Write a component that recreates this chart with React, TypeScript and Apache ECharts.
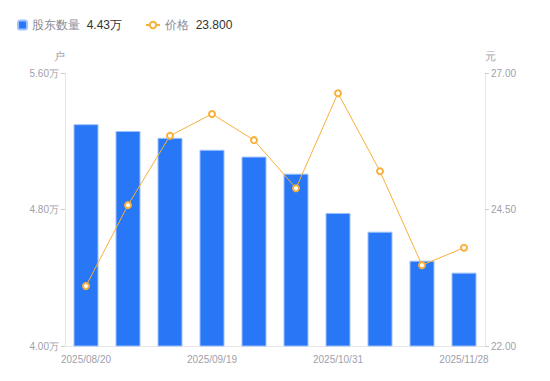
import React, { useEffect, useRef } from "react";
import * as echarts from "echarts";

const dates = [
  "2025/08/20", "2025/08/29", "2025/09/10", "2025/09/19", "2025/09/30",
  "2025/10/20", "2025/10/31", "2025/11/10", "2025/11/20", "2025/11/28",
];
const holders = [5.30, 5.26, 5.22, 5.15, 5.11, 5.01, 4.78, 4.67, 4.50, 4.43];
const prices = [23.10, 24.58, 25.85, 26.25, 25.77, 24.89, 26.63, 25.20, 23.48, 23.80];

const leftTicks = { min: 4.0, max: 5.6, interval: 0.8 };
const rightTicks = { min: 22, max: 27, interval: 2.5 };

export default function App() {
  const ref = useRef<HTMLDivElement>(null);
  useEffect(() => {
    if (!ref.current) return;
    const chart = echarts.init(ref.current, undefined, { renderer: "svg" });
    const lastH = holders[holders.length - 1];
    const lastP = prices[prices.length - 1];
    const font = "sans-serif";
    const rich = {
      n: { color: "#8a8a96", fontSize: 12, fontFamily: font },
      v: { color: "#333", fontSize: 12, fontFamily: font },
    };
    chart.setOption({
      animation: false,
      textStyle: { fontFamily: font },
      legend: [
        {
          left: 9,
          top: 11,
          padding: 0,
          itemWidth: 9,
          itemHeight: 9,
          data: [{ name: "股东数量", icon: "roundRect" }],
          formatter: (name: string) => `{n|${name}}  {v|${lastH.toFixed(2)}万}`,
          textStyle: { rich },
        },
        {
          left: 137,
          top: 11,
          padding: 0,
          itemWidth: 14,
          itemHeight: 8,
          data: [{ name: "价格" }],
          formatter: (name: string) => `{n|${name}}  {v|${lastP.toFixed(3)}}`,
          textStyle: { rich },
        },
      ],
      grid: { left: 57, right: 57, top: 65, bottom: 27 },
      xAxis: {
        type: "category",
        data: dates,
        axisLine: { lineStyle: { color: "#e6e6e6" } },
        axisTick: { show: false },
        axisLabel: {
          color: "#a0a0ab",
          fontSize: 10,
          interval: 2,
          margin: 8,
        },
      },
      yAxis: [
        {
          type: "value",
          name: "户",
          nameGap: 12,
          nameTextStyle: { color: "#a0a0ab", fontSize: 11, align: "right" },
          min: leftTicks.min,
          max: leftTicks.max,
          interval: leftTicks.interval,
          axisLine: { show: true, lineStyle: { color: "#e6e6e6" } },
          axisTick: { show: true, length: 4, lineStyle: { color: "#cccccc" } },
          splitLine: { show: false },
          axisLabel: {
            color: "#a0a0ab",
            fontSize: 10,
            margin: 6,
            formatter: (v: number) => `${v.toFixed(2)}万`,
          },
        },
        {
          type: "value",
          name: "元",
          nameGap: 12,
          nameTextStyle: { color: "#a0a0ab", fontSize: 11, align: "left" },
          min: rightTicks.min,
          max: rightTicks.max,
          interval: rightTicks.interval,
          axisLine: { show: true, lineStyle: { color: "#e6e6e6" } },
          axisTick: { show: true, length: 4, lineStyle: { color: "#cccccc" } },
          splitLine: { show: false },
          axisLabel: {
            color: "#a0a0ab",
            fontSize: 10,
            margin: 6,
            formatter: (v: number) => v.toFixed(2),
          },
        },
      ],
      series: [
        {
          name: "股东数量",
          type: "bar",
          data: holders,
          barWidth: 25,
          itemStyle: { color: "#2777f6", borderColor: "#9fc1fb", borderWidth: 1 },
        },
        {
          name: "价格",
          type: "line",
          yAxisIndex: 1,
          data: prices,
          symbol: "circle",
          symbolSize: 6,
          lineStyle: { color: "#f7b03a", width: 1 },
          itemStyle: { color: "#ffffff", borderColor: "#f7b03a", borderWidth: 2 },
        },
      ],
    });
    return () => chart.dispose();
  }, []);
  return <div ref={ref} style={{ width: 534, height: 365 }} />;
}
